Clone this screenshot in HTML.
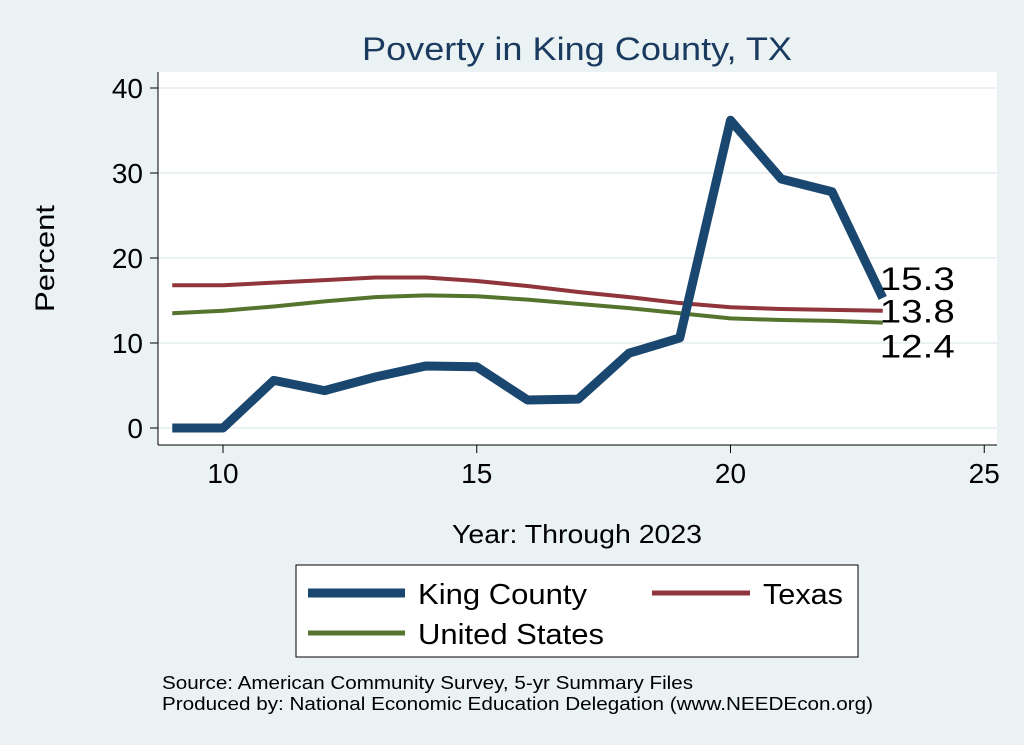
<!DOCTYPE html>
<html><head><meta charset="utf-8"><style>
body{margin:0;background:#eaf2f3;}
svg{display:block;font-family:"Liberation Sans",sans-serif;}
</style></head><body>
<svg id="c" width="1024" height="745">
<rect x="0" y="0" width="1024" height="745" fill="#eaf2f3"/>
<rect x="158" y="72" width="839" height="373" fill="#fff"/>
<text x="362" y="60" font-size="32" fill="#1a3a5f" textLength="430" lengthAdjust="spacingAndGlyphs">Poverty in King County, TX</text>
<g id="grid"></g>
<line x1="158" y1="72" x2="158" y2="445" stroke="#000" stroke-width="1"/>
<line x1="158" y1="445" x2="997" y2="445" stroke="#000" stroke-width="1"/>
<g id="ticks"></g>
<text x="54" y="312" font-size="27" textLength="107" lengthAdjust="spacingAndGlyphs" transform="rotate(-90 54 312)">Percent</text>
<text x="452" y="543" font-size="26" textLength="250" lengthAdjust="spacingAndGlyphs">Year: Through 2023</text>
<g id="series"></g>
<g>
<rect x="296" y="565" width="562" height="92" fill="#fff" stroke="#000" stroke-width="1"/>
<line x1="308" y1="593" x2="405" y2="593" stroke="#1a476f" stroke-width="9"/>
<text x="418" y="604" font-size="29" textLength="169" lengthAdjust="spacingAndGlyphs">King County</text>
<line x1="652" y1="593" x2="750" y2="593" stroke="#90353b" stroke-width="5"/>
<text x="763" y="604" font-size="29" textLength="80" lengthAdjust="spacingAndGlyphs">Texas</text>
<line x1="308" y1="633" x2="405" y2="633" stroke="#55752f" stroke-width="5"/>
<text x="418" y="644" font-size="29" textLength="186" lengthAdjust="spacingAndGlyphs">United States</text>
</g>
<text x="162" y="689" font-size="18" textLength="531" lengthAdjust="spacingAndGlyphs">Source: American Community Survey, 5-yr Summary Files</text>
<text x="162" y="710" font-size="18" textLength="711" lengthAdjust="spacingAndGlyphs">Produced by: National Economic Education Delegation (www.NEEDEcon.org)</text>
</svg>
<script>
const years=[9,10,11,12,13,14,15,16,17,18,19,20,21,22,23];
const king=[0,0,5.6,4.4,6,7.3,7.2,3.3,3.4,8.8,10.6,36.2,29.3,27.8,15.3];
const texas=[16.8,16.8,17.1,17.4,17.7,17.7,17.3,16.7,16.0,15.4,14.7,14.2,14.0,13.9,13.8];
const us=[13.5,13.8,14.3,14.9,15.4,15.6,15.5,15.1,14.6,14.1,13.5,12.9,12.7,12.6,12.4];
const yTicks=[0,10,20,30,40];
const xTicks=[10,15,20,25];
const NS="http://www.w3.org/2000/svg";
function xs(v){return 223+(v-10)*50.75;}
function ys(v){return 428-v*8.5;}
function mk(t,a,p){const e=document.createElementNS(NS,t);for(const k in a)e.setAttribute(k,a[k]);p.appendChild(e);return e;}
const g=document.getElementById('grid'),tk=document.getElementById('ticks'),s=document.getElementById('series');
yTicks.forEach(v=>{
 const l=mk('line',{x1:158,x2:997,y1:ys(v),y2:ys(v),stroke:'#eaf2f3','stroke-width':2},g);
 
 
 const t=mk('line',{x1:150,x2:158,y1:ys(v),y2:ys(v),stroke:'#000'},tk);
 
 
 const tx=mk('text',{x:143,y:ys(v)+10,'font-size':28,'text-anchor':'end'},tk);tx.textContent=v;
 
 
});
xTicks.forEach(v=>{
 const t=mk('line',{x1:xs(v),x2:xs(v),y1:445,y2:453,stroke:'#000'},tk);
 
 
 const tx=mk('text',{x:xs(v),y:483,'font-size':28,'text-anchor':'middle'},tk);tx.textContent=v;
 
 
});
function line(d,c,w,name){
 const p=mk('polyline',{points:d.map((v,i)=>xs(years[i])+','+ys(v)).join(' '),fill:'none',stroke:c,'stroke-width':w,'stroke-linejoin':'round'},s);
 
 
}
line(texas,'#90353b',4,'texas-line');
line(us,'#55752f',4,'us-line');
line(king,'#1a476f',9,'king-county-line');
const last=years.length-1;
[[king,-8,'label-king'],[texas,12,'label-texas'],[us,35,'label-us']].forEach(([d,off,n])=>{
 const tx=mk('text',{x:xs(years[last])-3,y:ys(d[last])+off,'font-size':32,textLength:75,lengthAdjust:'spacingAndGlyphs'},s);tx.textContent=d[last].toFixed(1);
 
 
});
</script>
</body></html>
